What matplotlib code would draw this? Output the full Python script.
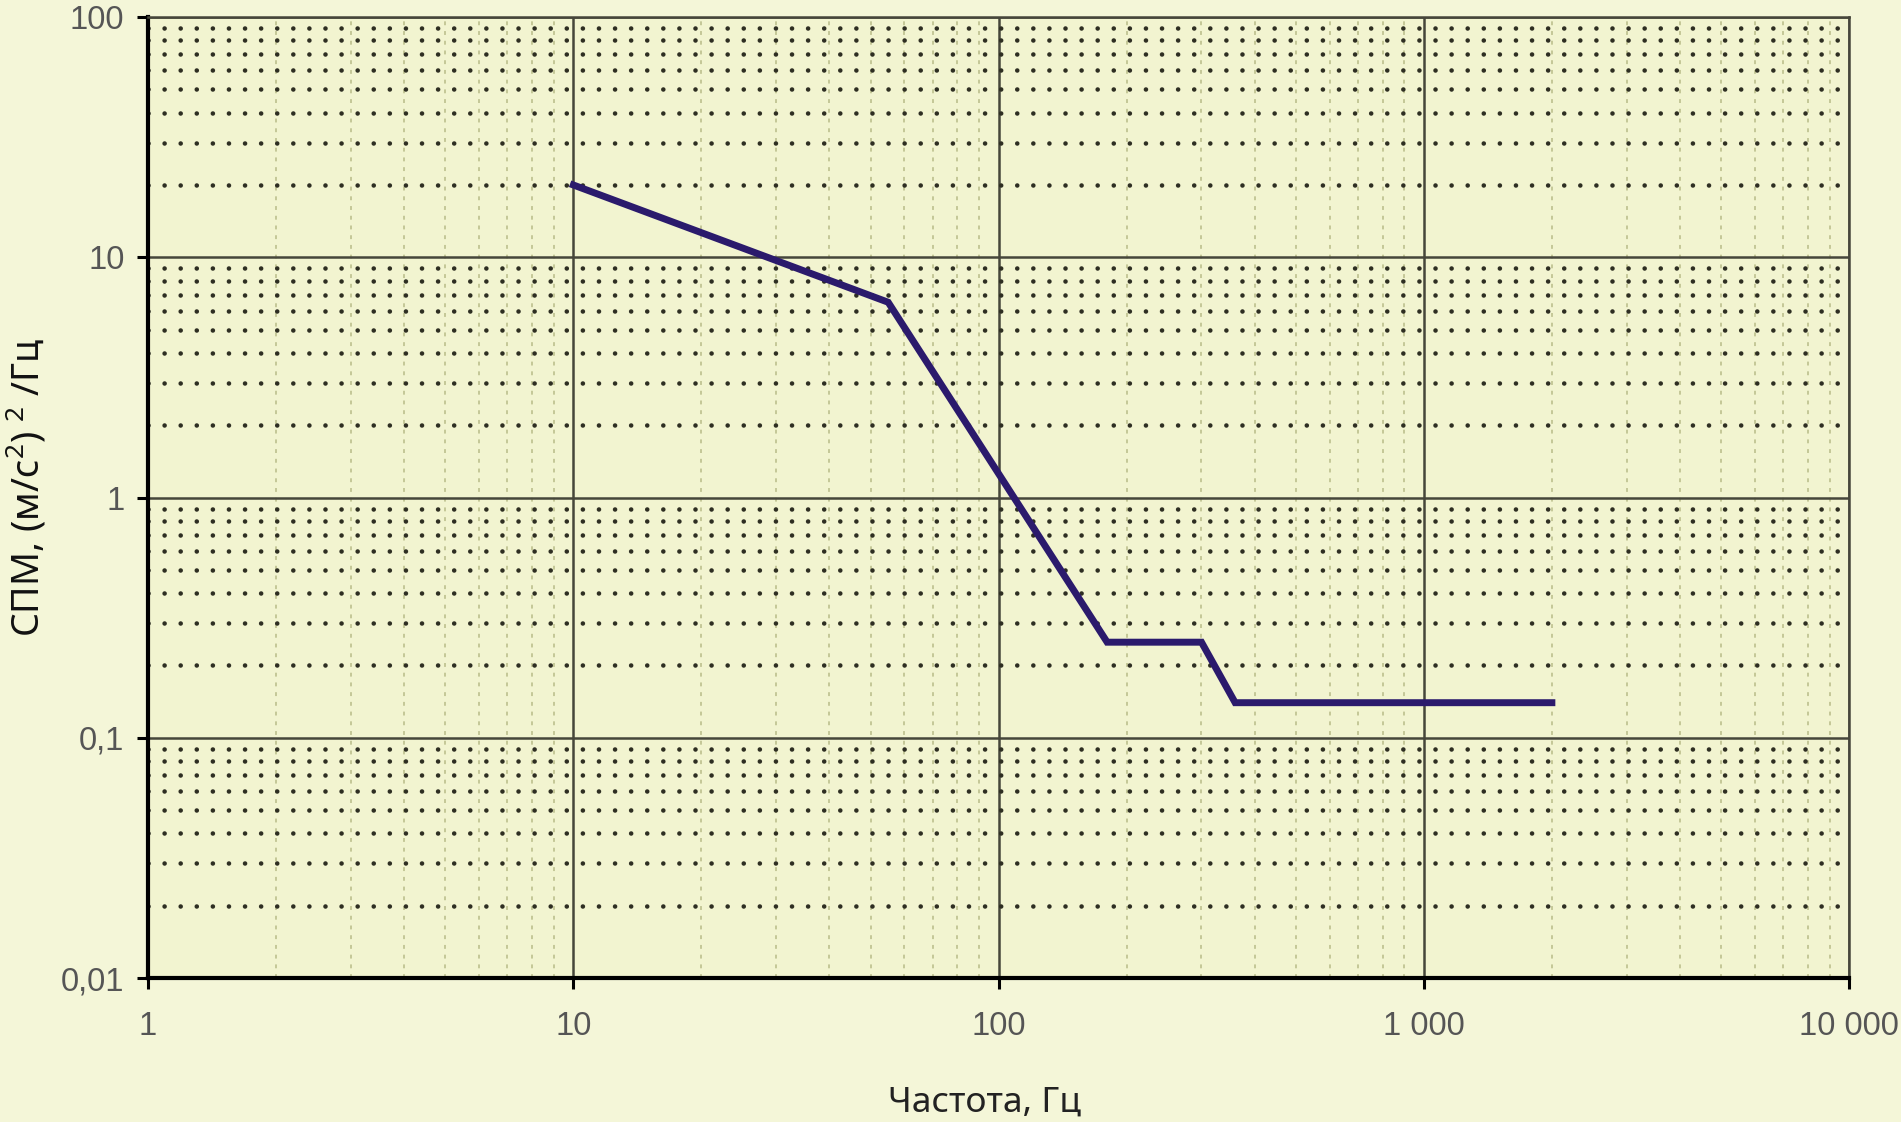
#Spectral density profile on log-log axes, saved as out.png
import numpy as np
import matplotlib
matplotlib.use('Agg')
import matplotlib.pyplot as plt
from matplotlib.ticker import FixedLocator, LogLocator, NullFormatter

#Data
freq = [10, 55, 180, 300, 360, 2000]
psd = [20, 6.5, 0.25, 0.25, 0.14, 0.14]
x_ticks = [1, 10, 100, 1000, 10000]
x_labels = ['1', '10', '100', '1 000', '10 000']
y_ticks = [0.01, 0.1, 1, 10, 100]
y_labels = ['0,01', '0,1', '1', '10', '100']

plt.rcParams['mathtext.fontset'] = 'custom'
plt.rcParams['mathtext.rm'] = 'Noto Sans'

bg = '#f4f6d8'
fig = plt.figure(figsize=(19.01, 11.22), dpi=100, facecolor=bg)
ax = fig.add_axes([0.0779, 0.1283, 0.8948, 0.8565])
ax.set_facecolor('#f2f4d0')

ax.set_xscale('log')
ax.set_yscale('log')
ax.set_xlim(1, 10000)
ax.set_ylim(0.01, 100)

#Major and minor grids
ax.xaxis.set_minor_locator(LogLocator(base=10, subs=np.arange(2, 10)))
ax.yaxis.set_minor_locator(LogLocator(base=10, subs=np.arange(2, 10)))
ax.xaxis.set_minor_formatter(NullFormatter())
ax.yaxis.set_minor_formatter(NullFormatter())
ax.grid(True, which='major', color='#46463a', linewidth=1.8, linestyle='-')
ax.yaxis.grid(True, which='minor', color='#2e2e22', linewidth=3.3,
              linestyle=(0, (0.01, 3.5)), dash_capstyle='round')
ax.xaxis.grid(True, which='minor', color='#c4c797', linewidth=1.4,
              linestyle=(0, (2, 3)))
ax.set_axisbelow(True)

#Curve
ax.plot(freq, psd, color='#2b1a6c', linewidth=5, solid_joinstyle='miter', zorder=5)

#Ticks and labels
ax.xaxis.set_major_locator(FixedLocator(x_ticks))
ax.yaxis.set_major_locator(FixedLocator(y_ticks))
ax.set_xticklabels(x_labels, family='Liberation Sans', fontsize=23.5, color='#555555')
ax.set_yticklabels(y_labels, family='Liberation Sans', fontsize=23.5, color='#555555')
ax.tick_params(which='major', direction='out', length=8, width=2.2, color='black')
ax.tick_params(axis='x', which='major', pad=16)
ax.tick_params(axis='y', which='major', pad=9)
ax.tick_params(which='minor', length=0)

for side in ['left', 'bottom']:
    ax.spines[side].set_color('black')
    ax.spines[side].set_linewidth(3)
for side in ['top', 'right']:
    ax.spines[side].set_color('#46463a')
    ax.spines[side].set_linewidth(1.8)

ax.set_ylabel(r'СПМ, (м/с$^2$) $^2$ /Гц', family='Noto Sans', fontsize=27,
              color='#111111', fontweight='light')
ax.yaxis.set_label_coords(-0.0711, 0.511)
ax.yaxis.label.set_verticalalignment('center')
ax.set_xlabel('Частота, Гц', family='Noto Sans', fontsize=25.5, color='#222222',
              fontweight='light')
ax.xaxis.set_label_coords(0.492, -0.13)
ax.xaxis.label.set_verticalalignment('center')

plt.savefig('out.png', dpi=100, facecolor=bg)
